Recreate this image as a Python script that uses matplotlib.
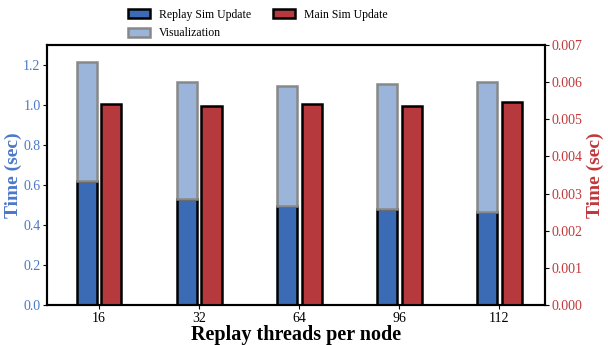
import matplotlib.pyplot as plt
import numpy as np

plt.rcParams['font.family'] = ['Liberation Serif', 'DejaVu Serif']

threads = ["16", "32", "64", "96", "112"]
replay_sim = [0.62, 0.53, 0.495, 0.48, 0.465]
visualization = [0.595, 0.587, 0.60, 0.625, 0.652]
main_sim = [0.00541, 0.00537, 0.0054, 0.00536, 0.00546]

blue = "#3b6bb5"
light_blue = "#9bb5da"
red = "#b5393d"
red_txt = "#c0393b"
blue_txt = "#4a78c8"

x = np.arange(len(threads))
w = 0.2

fig, ax1 = plt.subplots(figsize=(6.08, 3.45), dpi=100)
fig.subplots_adjust(left=0.077, right=0.897, top=0.87, bottom=0.115)
ax2 = ax1.twinx()

b1 = ax1.bar(x - 0.12, replay_sim, w, color=blue, edgecolor="black", linewidth=1.8)
b2 = ax1.bar(x - 0.12, visualization, w, bottom=replay_sim, color=light_blue,
             edgecolor="#888888", linewidth=1.8)
b3 = ax2.bar(x + 0.125, main_sim, w, color=red, edgecolor="black", linewidth=1.8)

ax1.set_xlim(-0.52, 4.46)
ax1.set_ylim(0, 1.3)
ax2.set_ylim(0, 0.007)
ax1.set_xticks(x)
ax1.set_xticklabels(threads)
ax1.set_yticks([0.0, 0.2, 0.4, 0.6, 0.8, 1.0, 1.2])
ax2.set_yticks(np.arange(0, 0.0071, 0.001))
ax2.set_yticklabels(["%.3f" % v for v in np.arange(0, 0.0071, 0.001)])
ax1.tick_params(axis="y", labelcolor=blue_txt, labelsize=10, length=3, pad=1.5)
ax2.tick_params(axis="y", labelcolor=red_txt, labelsize=10, length=3, pad=1.5)
ax1.tick_params(axis="x", labelsize=10, length=3, pad=2)
for a in (ax1, ax2):
    for s in a.spines.values():
        s.set_linewidth(1.5)

ax1.set_ylabel("Time (sec)", color=blue_txt, fontsize=14, fontweight="bold", labelpad=1)
ax2.set_ylabel("Time (sec)", color=red_txt, fontsize=14, fontweight="bold", labelpad=3)
ax1.set_xlabel("Replay threads per node", fontsize=14.5, fontweight="bold", labelpad=0)

fig.legend([b1, b2, b3], ["Replay Sim Update", "Visualization", "Main Sim Update"],
           ncol=2, loc="upper center", bbox_to_anchor=(0.424, 1.005), frameon=False,
           fontsize=8.5, handlelength=1.86, handleheight=0.75, columnspacing=1.8,
           labelspacing=0.55, handletextpad=0.76)

fig.savefig("out.png", dpi=100)
